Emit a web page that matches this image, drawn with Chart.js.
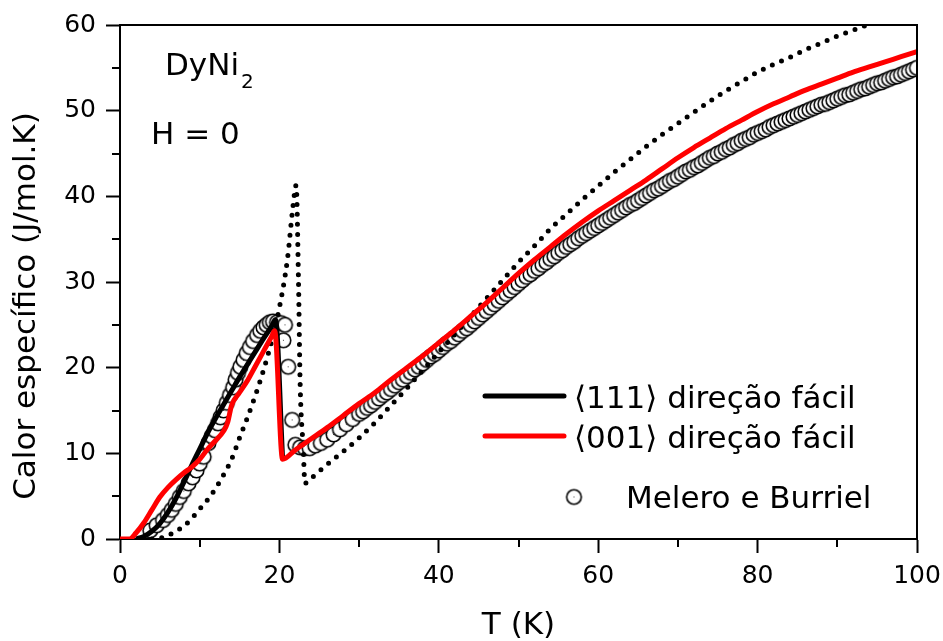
<!DOCTYPE html>
<html lang="pt">
<head>
  <meta charset="UTF-8">
  <title>DyNi2 – Calor específico, H = 0</title>
  <script src="https://cdn.jsdelivr.net/npm/chart.js"></script>
  <style>
    body {
      margin: 0;
      background: #fff;
    }
    #wrap {
      width: 943px;
      height: 641px;
    }
  </style>
</head>
<body>
  <div id="wrap"><canvas id="cpChart" width="943" height="641"></canvas></div>

  <script>
    // Melero e Burriel (experimental points)
    const expT = [3.8, 4.6, 5.4, 6.0, 6.5, 7.0, 7.5, 8.0, 8.6, 9.1, 9.6, 10.0, 10.5, 11.1, 11.5, 11.9, 12.3, 12.6, 13.0, 13.4,
      13.8, 14.2, 14.5, 14.8, 15.1, 15.5, 15.9, 16.3, 16.7, 17.2, 17.6, 18.0, 18.4, 18.8, 19.2, 19.7, 20.2, 20.7, 20.5, 21.1,
      21.6, 22.0, 22.6, 23.2, 23.8, 24.5, 25.2, 26.0, 26.8, 27.6, 28.4, 29.2,
      30, 30.5, 31, 31.5, 32, 32.5, 33, 33.5, 34, 34.5, 35, 35.5, 36, 36.5, 37, 37.5, 38, 38.5, 39, 39.5,
      40, 40.5, 41, 41.5, 42, 42.5, 43, 43.5, 44, 44.5, 45, 45.5, 46, 46.5, 47, 47.5, 48, 48.5, 49, 49.5,
      50, 50.5, 51, 51.5, 52, 52.5, 53, 53.5, 54, 54.5, 55, 55.5, 56, 56.5, 57, 57.5, 58, 58.5, 59, 59.5,
      60, 60.5, 61, 61.5, 62, 62.5, 63, 63.5, 64, 64.5, 65, 65.5, 66, 66.5, 67, 67.5, 68, 68.5, 69, 69.5,
      70, 70.5, 71, 71.5, 72, 72.5, 73, 73.5, 74, 74.5, 75, 75.5, 76, 76.5, 77, 77.5, 78, 78.5, 79, 79.5,
      80, 80.5, 81, 81.5, 82, 82.5, 83, 83.5, 84, 84.5, 85, 85.5, 86, 86.5, 87, 87.5, 88, 88.5, 89, 89.5,
      90, 90.5, 91, 91.5, 92, 92.5, 93, 93.5, 94, 94.5, 95, 95.5, 96, 96.5, 97, 97.5, 98, 98.5, 99, 99.5, 100];
    const expC = [1.0, 1.6, 2.2, 2.8, 3.4, 4.1, 4.9, 5.6, 6.5, 7.2, 8.0, 8.8, 9.6, 11.2, 12.0, 12.7, 13.5, 14.2, 15.0, 15.9,
      16.8, 17.7, 18.6, 19.4, 20.1, 20.9, 21.7, 22.4, 23.1, 23.8, 24.3, 24.7, 25.0, 25.3, 25.4, 25.3, 25.2, 25.0, 23.2, 20.1,
      13.9, 11.0, 10.7, 10.6, 10.6, 10.9, 11.2, 11.6, 12.2, 12.8, 13.4, 14.0,
      14.6, 14.9, 15.3, 15.6, 16.0, 16.4, 16.8, 17.1, 17.5, 17.9, 18.3, 18.6, 19.0, 19.4, 19.8, 20.1, 20.5, 20.9, 21.3, 21.6,
      22.0, 22.4, 22.8, 23.1, 23.5, 23.9, 24.3, 24.6, 25.0, 25.4, 25.8, 26.2, 26.6, 27.0, 27.4, 27.8, 28.2, 28.6, 29.0, 29.4,
      29.8, 30.2, 30.6, 30.9, 31.3, 31.6, 32.0, 32.3, 32.7, 33.0, 33.4, 33.7, 34.1, 34.4, 34.7, 35.1, 35.4, 35.7, 36.0, 36.3,
      36.6, 36.9, 37.2, 37.5, 37.8, 38.1, 38.4, 38.7, 39.0, 39.2, 39.5, 39.8, 40.1, 40.4, 40.7, 40.9, 41.2, 41.5, 41.8, 42.0,
      42.3, 42.6, 42.9, 43.1, 43.4, 43.6, 43.9, 44.2, 44.5, 44.7, 45.0, 45.2, 45.5, 45.7, 46.0, 46.2, 46.5, 46.7, 46.9, 47.2,
      47.4, 47.6, 47.8, 48.1, 48.3, 48.5, 48.7, 48.9, 49.1, 49.3, 49.5, 49.7, 49.9, 50.1, 50.3, 50.5, 50.7, 50.8, 51.0, 51.2,
      51.4, 51.6, 51.8, 51.9, 52.1, 52.3, 52.5, 52.6, 52.8, 53.0, 53.2, 53.3, 53.5, 53.7, 53.9, 54.0, 54.2, 54.4, 54.6, 54.8, 55.0];

    // <111> easy direction (black)
    const easy111T = [2, 3, 4, 5, 6, 7, 8, 9, 10, 11, 12, 13, 14, 15, 16, 17, 18, 19, 19.5, 20.4];
    const easy111C = [0, 0.3, 0.9, 1.8, 3.1, 4.7, 6.6, 8.6, 10.5, 12.4, 14.1, 15.7, 17.3, 18.9, 20.4, 21.9, 23.4, 24.8, 25.6, 9.4];

    // <001> easy direction (red)
    const easy001T = [0, 1.2, 2, 3, 4, 5, 6, 7, 8, 9, 10, 11, 12, 13, 13.5, 14, 15, 16, 17, 18, 19, 19.4, 20.4,
      22, 24, 26, 28, 30, 32, 34, 36, 38, 40, 42, 44, 46, 48, 50, 52, 54, 56, 58, 60,
      62, 64, 66, 68, 70, 72, 74, 76, 78, 80, 82, 84, 86, 88, 90, 92, 94, 96, 98, 100];
    const easy001C = [0, 0, 0.7, 1.9, 3.4, 4.9, 6.0, 6.9, 7.7, 8.4, 9.3, 10.5, 11.5, 12.6, 13.6, 15.6, 17.1, 18.5, 20.2, 21.9, 23.6, 24.3, 9.3,
      10.4, 11.7, 13.0, 14.4, 15.8, 17.1, 18.6, 20.0, 21.4, 22.9, 24.4, 26.0, 27.6, 29.3, 31.0, 32.6, 34.1, 35.6, 37.0, 38.3,
      39.5, 40.7, 41.9, 43.2, 44.5, 45.7, 46.8, 47.9, 48.9, 49.9, 50.8, 51.6, 52.4, 53.1, 53.8, 54.5, 55.1, 55.7, 56.3, 56.9];

    // dotted curve
    const dotT = [4, 5, 6, 7, 8, 9, 10, 11, 12, 13, 14, 15, 16, 17, 18, 19, 20, 21, 21.7, 22.1, 22.4, 22.6, 23.0, 23.2,
      24, 25, 26, 28, 30, 32, 34, 36, 38, 40, 42, 44, 46, 48, 50, 52, 54, 56, 58, 60,
      62, 64, 66, 68, 70, 72, 74, 76, 78, 80, 82, 84, 86, 88, 90, 92, 94, 96];
    const dotC = [0, 0.1, 0.4, 0.9, 1.5, 2.4, 3.5, 4.6, 5.9, 7.5, 9.3, 11.8, 14.2, 16.8, 19.7, 23.0, 27.0, 32.6, 38.8, 41.3, 29.9, 18.2, 10.4, 6.5,
      7.1, 7.9, 8.7, 10.2, 11.8, 13.6, 15.6, 17.6, 19.7, 21.8, 23.9, 26.0, 28.1, 30.2, 32.3, 34.2, 36.2, 37.9, 39.6, 41.2,
      42.8, 44.3, 45.8, 47.2, 48.5, 49.8, 51.1, 52.3, 53.4, 54.5, 55.4, 56.2, 57.1, 57.9, 58.7, 59.4, 60.1, 60.8];

    const xMinor = [10, 30, 50, 70, 90];
    const yMinor = [5, 15, 25, 35, 45, 55];

    const legendLabels = ['\u27E8111\u27E9 direção fácil', '\u27E8001\u27E9 direção fácil', 'Melero e Burriel'];
    const yTitle = 'Calor específico (J/mol.K)';

    const FONT = "'DejaVu Sans', Verdana, sans-serif";

    const toPts = (xs, ys) => xs.map((x, i) => ({ x: x, y: ys[i] }));

    // open circle with a tiny centre dot, as in the original plot
    function makeMarker(r) {
      const c = document.createElement('canvas');
      const s = Math.ceil(r * 2 + 4);
      c.width = s; c.height = s;
      const g = c.getContext('2d');
      g.fillStyle = '#fff';
      g.strokeStyle = '#000';
      g.lineWidth = 1.6;
      g.beginPath(); g.arc(s / 2, s / 2, r, 0, Math.PI * 2); g.fill(); g.stroke();
      g.fillStyle = '#444';
      g.fillRect(s / 2 - 0.5, s / 2 - 0.5, 1, 1);
      return c;
    }
    const marker = makeMarker(7.3);

    // frame, minor ticks, y title, legend and labels inside the plot
    const extras = {
      id: 'extras',
      afterDraw(chart) {
        const { ctx, chartArea: a, scales: { x, y } } = chart;
        ctx.save();
        ctx.strokeStyle = '#000';
        ctx.lineWidth = 2;
        ctx.beginPath();
        ctx.moveTo(a.left, a.top);
        ctx.lineTo(a.right, a.top);
        ctx.lineTo(a.right, a.bottom);
        xMinor.forEach(v => {
          const px = Math.round(x.getPixelForValue(v));
          ctx.moveTo(px, a.bottom);
          ctx.lineTo(px, a.bottom + 8);
        });
        yMinor.forEach(v => {
          const py = Math.round(y.getPixelForValue(v));
          ctx.moveTo(a.left, py);
          ctx.lineTo(a.left - 8, py);
        });
        ctx.stroke();

        ctx.fillStyle = '#000';
        ctx.font = '31px ' + FONT;

        // y axis title
        ctx.save();
        ctx.translate(27, 306);
        ctx.rotate(-Math.PI / 2);
        ctx.textAlign = 'center';
        ctx.textBaseline = 'middle';
        ctx.fillText(yTitle, 0, 0);
        ctx.restore();

        // legend
        ctx.lineCap = 'round';
        ctx.lineWidth = 5;
        ctx.strokeStyle = '#000';
        ctx.beginPath(); ctx.moveTo(485, 396); ctx.lineTo(564, 396); ctx.stroke();
        ctx.strokeStyle = '#ff0000';
        ctx.beginPath(); ctx.moveTo(485, 436); ctx.lineTo(564, 436); ctx.stroke();
        ctx.drawImage(marker, 574 - marker.width / 2, 497 - marker.height / 2);

        ctx.textBaseline = 'alphabetic';
        ctx.textAlign = 'left';
        ctx.fillText(legendLabels[0], 574, 408);
        ctx.fillText(legendLabels[1], 574, 448);
        ctx.fillText(legendLabels[2], 626, 508);

        // compound and field
        ctx.fillText('DyNi', 165, 75);
        const w = ctx.measureText('DyNi').width;
        ctx.font = '20px ' + FONT;
        ctx.fillText('2', 165 + w + 2, 88);
        ctx.font = '31px ' + FONT;
        ctx.fillText('H = 0', 151, 144);
        ctx.restore();
      }
    };

    const ctx = document.getElementById('cpChart').getContext('2d');

    const chart = new Chart(ctx, {
      type: 'scatter',
      data: {
        datasets: [
          {
            label: legendLabels[2],
            data: toPts(expT, expC),
            showLine: false,
            pointStyle: marker,
            pointRadius: 7,
            pointHoverRadius: 7,
            clip: 0,
            order: 4
          },
          {
            label: 'dotted',
            data: toPts(dotT, dotC),
            showLine: true,
            pointRadius: 0,
            borderColor: '#000',
            borderWidth: 5,
            borderDash: [0, 10],
            borderCapStyle: 'round',
            cubicInterpolationMode: 'monotone',
            clip: 0,
            order: 3
          },
          {
            label: legendLabels[0],
            data: toPts(easy111T, easy111C),
            showLine: true,
            pointRadius: 0,
            borderColor: '#000',
            borderWidth: 5,
            cubicInterpolationMode: 'monotone',
            order: 2
          },
          {
            label: legendLabels[1],
            data: toPts(easy001T, easy001C),
            showLine: true,
            pointRadius: 0,
            borderColor: '#ff0000',
            borderWidth: 5,
            cubicInterpolationMode: 'monotone',
            order: 1
          }
        ]
      },
      options: {
        responsive: false,
        animation: false,
        events: [],
        layout: {
          padding: { top: 25, right: 26, left: 0, bottom: 0 },
          autoPadding: false
        },
        plugins: {
          legend: { display: false },
          tooltip: { enabled: false }
        },
        scales: {
          x: {
            type: 'linear',
            min: 0,
            max: 100,
            afterFit: s => { s.height = 102; s.paddingLeft = 0; s.paddingRight = 0; },
            ticks: {
              stepSize: 20,
              color: '#000',
              padding: 8,
              maxRotation: 0,
              font: { family: FONT, size: 25 }
            },
            grid: { drawOnChartArea: false, tickLength: 14, tickWidth: 2, tickColor: '#000' },
            border: { color: '#000', width: 2 },
            title: {
              display: true,
              text: 'T (K)',
              color: '#000',
              padding: { top: 0, bottom: 0 },
              font: { family: FONT, size: 31, lineHeight: 1 }
            }
          },
          y: {
            min: 0,
            max: 60,
            afterFit: s => { s.width = 120; s.paddingTop = 0; s.paddingBottom = 0; },
            ticks: {
              stepSize: 10,
              color: '#000',
              padding: 10,
              font: { family: FONT, size: 25 }
            },
            grid: { drawOnChartArea: false, tickLength: 14, tickWidth: 2, tickColor: '#000' },
            border: { color: '#000', width: 2 }
          }
        }
      },
      plugins: [extras]
    });
  </script>
</body>
</html>
